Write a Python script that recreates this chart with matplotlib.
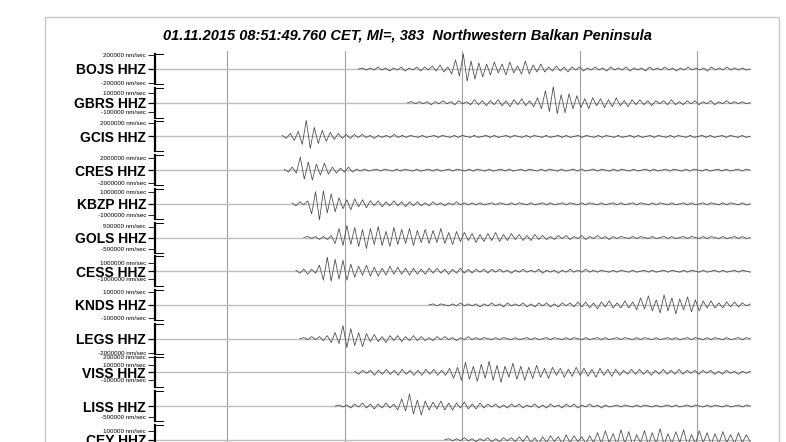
import numpy as np
import matplotlib
matplotlib.use("Agg")
import matplotlib.pyplot as plt
from matplotlib.patches import Rectangle

plt.rcParams["font.family"] = ["Liberation Sans", "DejaVu Sans"]

title = "01.11.2015 08:51:49.760 CET, Ml=, 383  Northwestern Balkan Peninsula"

stations = ["BOJS HHZ", "GBRS HHZ", "GCIS HHZ", "CRES HHZ", "KBZP HHZ", "GOLS HHZ",
            "CESS HHZ", "KNDS HHZ", "LEGS HHZ", "VISS HHZ", "LISS HHZ", "CEY HHZ"]

# seconds after the first sample where each trace starts to move
onsets = [104, 129, 65, 66, 70, 76, 72, 140, 74, 102, 92, 148]
t_end = 304
grid_times = [37, 97, 157, 217, 277]  # full minutes

# scale bar values (nm/sec) and trace units per nm/sec
scale_ticks = [[200000, -200000], [100000, -100000], [2000000], [2000000, -2000000],
               [1000000, -1000000], [500000, -500000], [1000000, -1000000],
               [100000, -100000], [-2000000], [200000, 100000, -100000], [-500000], [100000]]
gain = [7e-5, 9.5e-5, 6.5e-6, 6.25e-6, 1.15e-5, 2.2e-5, 8e-6, 1.3e-4, 7e-6, 7.5e-5, 2.2e-5, 9e-5]

# ground velocity (15 = full bracket)
bojs = [0, 1, -1, 1, -1, 2, -1, 1, -2, 1, -1, 2, -2, 1, -1, 2, -2, 2, -1,
        3, -2, 4, -3, 2, -5, 9, -7, 15, -12, 8, -10, 6, -8, 5, -6, 7, -4, 5,
        -6, 7, -4, 3, -5, 8, -5, 4, -3, 5, -3, 2, -2, 3, -2, 2, -3, 2, -1, 2,
        -2, 1, -1, 2, -1, 1, -2, 2, -1, 1, -1, 2, -2, 1, -1, 1, -2, 2, -1, 1, -1, 2,
        -1, 1, -2, 1, -1, 2, -1, 1, -1, 1, -2, 2, -1, 1, -1, 2, -1, 1, -1, 1, -1, 0]
gbrs = [0, 1, -1, 1, -1, 1, -2, 1, -1, 2, -1, 1, -2, 2, -1, 1,
        -2, 3, -2, 2, -3, 2, -2, 3, -3, 2, -4, 3, -2, 4, -3, 2, -4, 5,
        -6, 12, -9, 16, -11, 8, -10, 9, -6, 7, -5, 4, -6, 5, -3, 4, -5, 3, -4, 5, -3, 2, -4, 3, -2, 3,
        -2, 2, -3, 2, -1, 2, -2, 3, -2, 1, -2, 2, -1, 2, -2, 1, -1, 2, -2, 1, -1, 2, -1, 1, -1, 1, -1, 0]
gcis = [1, -2, 3, -4, 5, -8, 16, -12, 9, -7, 6, -5, 4, -3, 3, -2, 2,
        -2, 2, -1, 2, -1, 1, -2, 1, -1, 1, -1, 2, -1, 1,
        -1, 1, 0, -1, 1, -1, 0, 1, -1, 1, 0, -1, 1, -1, 1, 0, -1, 1, -1, 0, 1, -1, 1, -1, 0, 1,
        -1, 1, 0, -1, 1, -1, 1, 0, -1, 1, -1, 0, 1, -1, 1, -1, 0, 1, -1, 1, 0, -1, 1, -1, 1, 0,
        -1, 1, -1, 0, 1, -1, 1, -1, 0, 1, -1, 1, 0, -1, 1, -1, 1, 0, -1, 1, -1, 0, 1, -1, 1, -1,
        0, 1, -1, 1, 0, -1, 1, -1, 0]
cres = [1, -2, 3, -3, 13, -9, 8, -10, 6, -5, 7, -4, 3, -3, 2, -2, 3, -2,
        1, -1, 1, -1, 0, 1, -1, 1, 0, -1, 1, -1, 1, 0, -1, 1, -1, 0, 1, -1, 1, -1, 0, 1, -1,
        1, 0, -1, 1, -1, 1, 0, -1, 1, -1, 0, 1, -1, 1, -1, 0, 1, -1, 1, 0, -1, 1, -1, 1, 0,
        -1, 1, -1, 0, 1, -1, 1, -1, 0, 1, -1, 1, 0, -1, 1, -1, 1, 0, -1, 1, -1, 0, 1, -1, 1,
        -1, 0, 1, -1, 1, 0, -1, 1, -1, 1, 0, -1, 1, -1, 0, 1, -1, 1, -1, 0, 1, -1, 1, 0]
kbzp = [1, -2, 2, -1, 3, -10, 12, -16, 13, -9, 10, -8, 6, -5, 4, -6, 5, -3, 4, -4,
        3, -2, 3, -3, 2, -2, 3, -2, 2, -3, 2, -2, 2,
        -2, 1, -2, 2, -1, 1, -2, 1, -1, 2, -1, 1, -1, 1, -1,
        1, -1, 0, 1, -1, 1, 0, -1, 1, -1, 1, 0, -1, 1, -1, 0, 1, -1, 1, -1, 0, 1, -1, 1,
        0, -1, 1, -1, 1, 0, -1, 1, -1, 0, 1, -1, 1, -1, 0, 1, -1, 1, 0, -1, 1, -1, 1, 0,
        -1, 1, -1, 0, 1, -1, 1, -1, 0, 1, -1, 1, 0, -1, 1, -1, 1, 0, -1, 1, -1, 0]
gols = [0, 1, -1, 1, -2, 1, -2, 2,
        -6, 9, -8, 12, -7, 10, -9, 8, -11, 9, -7, 11, -8, 6, -9, 10, -7, 8, -6, 9, -8, 7,
        -5, 8, -6, 7, -5, 9, -6, 5, -7, 6,
        -4, 5, -3, 4, -5, 3, -4, 4, -3, 5, -4, 3, -3, 4, -2, 3, -3, 2, -3, 3,
        -2, 2, -2, 1, -2, 2, -1, 2, -2, 1, -1, 2, -2, 1, -1, 2, -1, 1, -2, 1,
        -1, 1, 0, -1, 1, -1, 1, 0, -1, 1, -1, 0, 1, -1, 1, -1, 0, 1, -1, 1, 0, -1, 1, -1,
        1, 0, -1, 1, -1, 0, 1, -1, 1, -1, 0]
cess = [1, -2, 2, -3, 2, -2, 6, -9, 14, -10, 12, -8, 11, -9, 7, -6,
        5, -4, 6, -5, 4, -5, 3, -4, 5, -3, 4, -3, 3, -4, 3,
        -3, 2, -3, 3, -2, 3, -2, 2, -3, 2, -2, 3, -2, 2, -2, 2, -1, 2, -2, 2,
        -1, 2, -1, 1, -2, 1, -1, 2, -1, 1, -1, 2, -2, 1, -1, 1, -2, 1, -1, 2, -1, 1, -1, 2, -1, 1,
        -1, 1, 0, -1, 1, -1, 1, 0, -1, 1, -1, 0, 1, -1, 1, -1, 0, 1, -1, 1,
        0, -1, 1, -1, 1, 0, -1, 1, -1, 0, 1, -1, 1, -1, 0, 1, -1, 1, 0, -1]
knds = [0, 1, -1, 1, 0, -1, 1, -1, 2, -1, 1, -1, 1, -2, 1, -1, 2, -1, 1, -2, 2, -1, 1, -1,
        2, -2, 1, -2, 2, -1, 2, -2, 1, -2, 2, -1, 2, -2,
        3, -2, 3, -3, 2, -4, 3, -2, 4, -3, 2, -3, 4, -3, 3,
        -5, 7, -4, 9, -6, 5, -8, 10, -6, 7, -9, 6, -5, 8, -7, 5, -6, 4,
        -3, 4, -3, 2, -3, 3, -2, 3, -2, 2, -1, 1]
legs = [0, 1, -1, 2, -1, 2, -2, 3, -4, 6, -5, 13, -9, 10, -7, 6, -8, 5,
        -3, 4, -3, 2, -4, 3, -2, 3, -3, 2, -2, 3, -2,
        2, -2, 1, -2, 2, -1, 2, -1, 1, -2, 1, -1, 2, -1, 1,
        -1, 1, 0, -1, 1, -1, 1, 0, -1, 1, -1, 0, 1, -1, 1, -1, 0, 1, -1, 1, 0, -1, 1, -1,
        1, 0, -1, 1, -1, 0, 1, -1, 1, -1, 0, 1, -1, 1, 0, -1, 1, -1, 1, 0, -1, 1, -1, 0,
        1, -1, 1, -1, 0, 1, -1, 1, 0, -1, 1, -1, 1, 0, -1, 1, -1, 0, 1, -1, 1, 0]
viss = [1, -2, 2, -1, 2, -3, 2, -2, 3, -2, 2, -3, 3, -2, 2, -3, 2, -3, 3, -2, 3, -3, 2, -3,
        4, -6, 5, -8, 10, -7, 6, -9, 8, -6, 11, -8, 7, -10, 6, -5, 9, -7, 6, -8, 5, -6, 7,
        -5, 4, -6, 5, -3, 4, -5, 3, -4, 5, -3, 4, -4, 3, -5, 4, -3, 3, -4, 3,
        -3, 2, -2, 3, -2, 3, -2, 2, -3, 2, -2, 3, -2, 2, -2, 3, -2, 2, -1, 2, -2,
        2, -1, 2, -2, 1, -2, 2, -1, 1, -2, 1, -1, 1]
liss = [0, 1, -1, 1, -2, 2, -1, 3, -2, 2, -3, 2, -2, 3, -2, 2,
        -4, 7, -5, 12, -8, 6, -9, 5, -4, 4, -3, 5, -4, 3, -4, 3, -2, 4, -3, 2, -3, 3,
        -2, 2, -1, 2, -2, 1, -2, 2, -1, 2, -2, 1, -1, 2, -2, 1, -2, 2, -1, 1, -2, 2,
        -1, 2, -2, 1, -1, 2, -1, 1, -2,
        1, -1, 0, 1, -1, 1, 0, -1, 1, -1, 1, 0, -1, 1, -1, 0, 1, -1, 1, -1, 0, 1, -1, 1,
        0, -1, 1, -1, 1, 0, -1, 1, -1, 0, 1, -1, 1, 0]
cey = [0, 1, -1, 1, -1, 2, -1, 1, -2, 1, -1, 2, -2, 1, -2, 2, -1, 2, -2,
       3, -2, 4, -3, 2, -4, 3, -3, 4, -2, 3, -4, 5, -3, 4, -2, 3, -4, 4, -3,
       7, -4, 9, -3, 6, -5, 10, -4, 8, -6, 5, -3, 9, -5, 7, -4, 11, -5, 6, -4, 8,
       -3, 10, -6, 5, -4, 9, -3, 7, -5, 6, -4, 8, -3, 5, -4, 7, -3, 5, -2]
traces = [bojs, gbrs, gcis, cres, kbzp, gols, cess, knds, legs, viss, liss, cey]

units_per_trace = 33.7
bracket = 15
y_top = 18 / units_per_trace
y_bot = -373 / units_per_trace

fig = plt.figure(figsize=(7.86, 4.42), dpi=100)
fig.patches.append(Rectangle((45 / 786, -0.05), 734 / 786, 0.05 + 1 - 17 / 442,
                             transform=fig.transFigure, fill=False,
                             edgecolor="#c8c8c8", lw=1.0))
fig.text(0.518, 1 - 35 / 442, title, ha="center", va="center", fontsize=10.5,
         fontweight="bold", fontstyle="italic")

ax = fig.add_axes([155 / 786, 0, 605 / 786, (442 - 51) / 442])
ax.set_xlim(0, 309)
ax.set_ylim(y_bot, y_top)

hook = 4
minor_pos, minor_lab = [], []
for i, (name, on, vals) in enumerate(zip(stations, onsets, traces)):
    base = -i
    ax.plot([0, t_end], [base, base], color="#bdbdbd", lw=1.0, zorder=2)
    t = np.linspace(on, t_end, len(vals))
    ax.plot(t, base + np.array(vals) / units_per_trace, color="#474747", lw=0.55, zorder=3)
    top = base + bracket / units_per_trace
    bot = base - bracket / units_per_trace
    ax.plot([0, 0], [top, bot], color="black", lw=1.6, clip_on=False, zorder=4)
    ax.plot([0, hook], [top, top], color="black", lw=0.7, clip_on=False, zorder=4)
    ax.plot([0, hook], [bot, bot], color="black", lw=0.7, clip_on=False, zorder=4)
    for v in scale_ticks[i]:
        minor_pos.append(base + v * gain[i] / units_per_trace)
        minor_lab.append(f"{v} nm/sec")

ax.set_yticks([-i for i in range(len(stations))], labels=stations)
ax.set_yticks(minor_pos, labels=minor_lab, minor=True)
ax.tick_params(axis="y", which="major", length=5, width=0.9, pad=1.5, labelsize=10)
ax.tick_params(axis="y", which="minor", length=5, width=0.6, pad=1.5, labelsize=4.5)
for lbl in ax.get_yticklabels():
    lbl.set_fontweight("bold")

ax.set_xticks(grid_times)
ax.tick_params(axis="x", length=0, labelbottom=False)
ax.grid(axis="x", color="#a0a0a0", lw=0.8)
for s in ax.spines.values():
    s.set_visible(False)

fig.savefig("out.png", dpi=100)
